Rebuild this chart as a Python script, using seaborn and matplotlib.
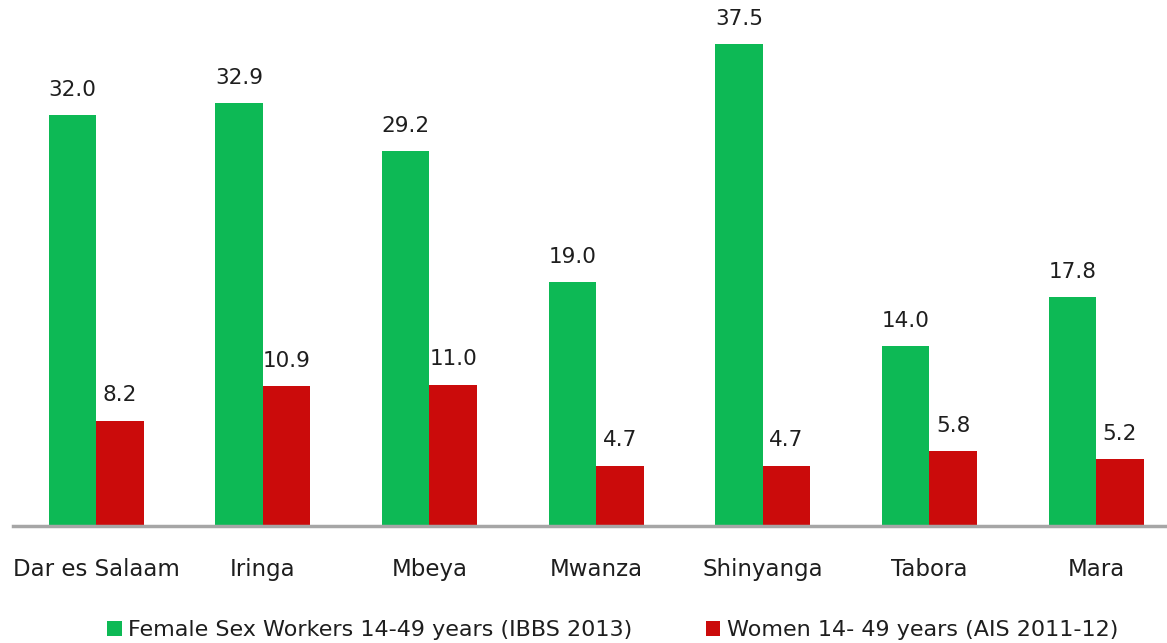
import matplotlib
matplotlib.use("Agg")
import matplotlib.pyplot as plt
import seaborn as sns
import pandas as pd
from matplotlib.patches import Patch

regions = ["Dar es Salaam", "Iringa", "Mbeya", "Mwanza", "Shinyanga", "Tabora", "Mara"]
fsw = [32.0, 32.9, 29.2, 19.0, 37.5, 14.0, 17.8]
women = [8.2, 10.9, 11.0, 4.7, 4.7, 5.8, 5.2]
series = ["Female Sex Workers 14-49 years (IBBS 2013)", "Women 14- 49 years (AIS 2011-12)"]
colors = ["#0DB955", "#CB0B0B"]

df = pd.DataFrame({
    "region": regions * 2,
    "value": fsw + women,
    "series": [series[0]] * len(regions) + [series[1]] * len(regions),
})

sns.set_theme(style="white")
plt.rcParams["font.family"] = ["DejaVu Sans"]
text_color = "#1E1E1E"

fig = plt.figure(figsize=(11.67, 6.43), dpi=100)
ax = fig.add_axes([12.7 / 1167, 1 - 526 / 643, 1166.7 / 1167, (526 - 12) / 643])

sns.barplot(data=df, x="region", y="value", hue="series", palette=colors,
            width=0.57, gap=0, saturation=1, linewidth=0, ax=ax, legend=False)

ax.set_xlim(-0.5, 6.5)
ax.set_ylim(0, 40)
for c in ax.containers:
    ax.bar_label(c, fmt="%.1f", padding=11, fontsize=15.5, color=text_color)

for s in ["top", "right", "left"]:
    ax.spines[s].set_visible(False)
ax.spines["bottom"].set_color("#A6A6A6")
ax.spines["bottom"].set_linewidth(2.5)
ax.set_yticks([])
ax.set_xlabel("")
ax.set_ylabel("")
ax.tick_params(axis="x", length=0, pad=23, labelsize=16.5, colors=text_color)

handles = [Patch(facecolor=colors[i], edgecolor="none", label=series[i]) for i in range(2)]
fig.legend(handles=handles, loc="center", bbox_to_anchor=(0.525, 1 - 630 / 643), ncol=2,
           frameon=False, fontsize=16, handlelength=0.65, handleheight=0.65,
           handletextpad=0.3, columnspacing=3.3, labelcolor=text_color)

fig.savefig("out.png", dpi=100)
